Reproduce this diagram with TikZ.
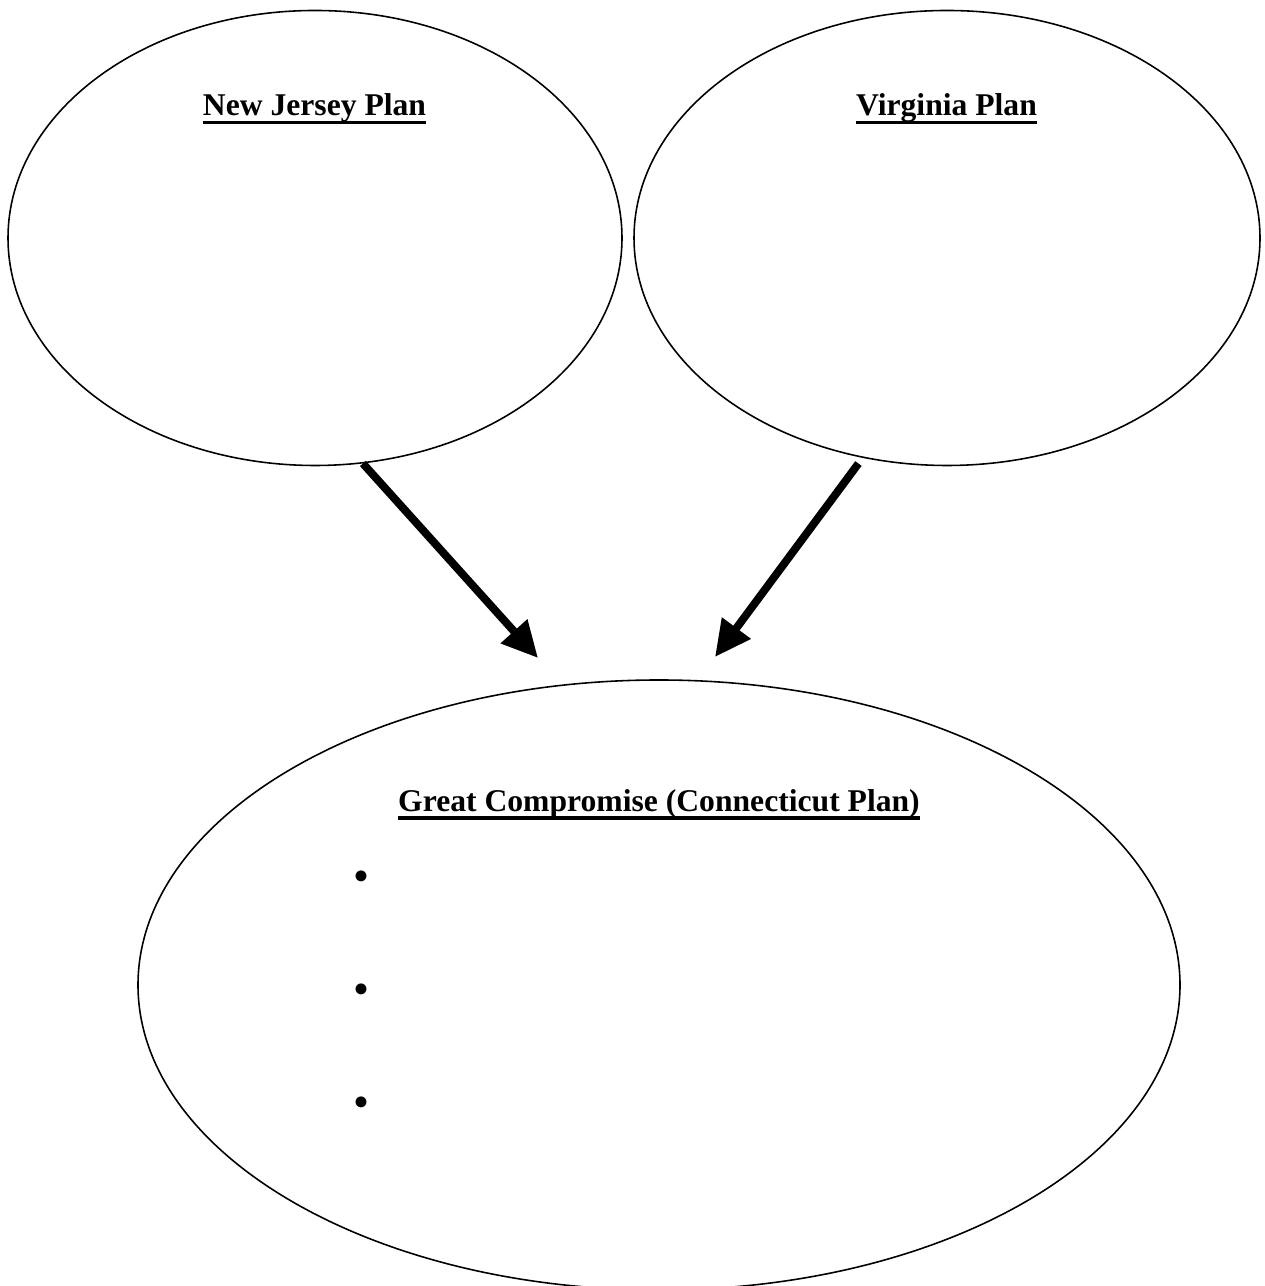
\documentclass[tikz,border=0pt]{standalone}
\usepackage{fontspec}
\setmainfont{Liberation Serif}
\usetikzlibrary{shapes.geometric}
\usetikzlibrary{arrows.meta}
\newcommand{\ulplan}[1]{\setbox0=\hbox{#1}\rlap{\copy0}\vrule width \wd0 height -2.6pt depth 4.6pt}

\begin{document}
\begin{tikzpicture}[
  plan/.style={ellipse,draw=black,line width=0.9pt,inner sep=0pt},
  planarrow/.style={line width=4.5pt,-{Triangle[length=0.72cm,width=0.68cm]}},
  title/.style={font=\fontsize{18}{22}\selectfont\bfseries,text=black,anchor=base,inner sep=0pt},
  point/.style={font=\fontsize{26}{30}\selectfont,text=black,anchor=center,inner sep=0pt}]
\useasboundingbox (0,0) rectangle (25.28,25.72);

\node[plan,minimum width=12.28cm,minimum height=9.1cm] (nj) at (6.30,20.96) {};
\node[plan,minimum width=12.52cm,minimum height=9.1cm] (va) at (18.94,20.96) {};
\node[plan,minimum width=20.84cm,minimum height=12.2cm] (gc) at (13.18,6.02) {};

\node[title] (njtitle) at (6.29,23.40) {\ulplan{New Jersey Plan}};
\node[title] (vatitle) at (18.93,23.40) {\ulplan{Virginia Plan}};
\node[title] (gctitle) at (13.18,9.49) {\ulplan{Great Compromise (Connecticut Plan)}};

\node[point] (p1) at (7.22,8.10) {\textbullet};
\node[point] (p2) at (7.22,5.84) {\textbullet};
\node[point] (p3) at (7.22,3.58) {\textbullet};

\coordinate (njtip) at (10.76,12.56);
\coordinate (vatip) at (14.30,12.58);
\draw[planarrow] (nj.-78) -- (njtip);
\draw[planarrow,shorten <=4pt] (va.-111) -- (vatip);

\end{tikzpicture}
\end{document}
